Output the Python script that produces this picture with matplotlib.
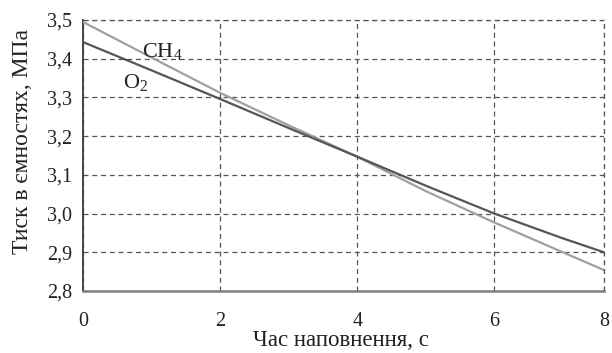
import matplotlib.pyplot as plt

# дані
t = [0, 1, 2, 3, 4, 5, 6, 7, 7.6]
p_ch4 = [3.495, 3.403, 3.312, 3.228, 3.147, 3.058, 2.977, 2.900, 2.854]
p_o2 = [3.443, 3.370, 3.296, 3.221, 3.147, 3.072, 3.000, 2.936, 2.900]

x_ticks = [0, 2, 4, 6, 7.6]
x_labels = ['0', '2', '4', '6', '8']
y_ticks = [2.8, 2.9, 3.0, 3.1, 3.2, 3.3, 3.4, 3.5]
y_labels = ['2,8', '2,9', '3,0', '3,1', '3,2', '3,3', '3,4', '3,5']

plt.rcParams['font.family'] = ['Liberation Serif', 'DejaVu Serif']
plt.rcParams['mathtext.fontset'] = 'custom'
plt.rcParams['mathtext.rm'] = 'Liberation Serif'
plt.rcParams['mathtext.it'] = 'Liberation Serif'

fig = plt.figure(figsize=(6.12, 3.53), dpi=100)
ax = fig.add_axes([0.1356, 0.1756, 0.8514, 0.7677])

ax.plot(t, p_ch4, color='#a0a0a0', lw=1.6, zorder=3)
ax.plot(t, p_o2, color='#555555', lw=1.6, zorder=4)

ax.set_xlim(0, 7.6)
ax.set_ylim(2.8, 3.5)
ax.set_xticks(x_ticks)
ax.set_xticklabels(x_labels)
ax.set_yticks(y_ticks)
ax.set_yticklabels(y_labels)
ax.tick_params(length=0, labelsize=14.5, colors='#222222')
ax.tick_params(axis='x', pad=15)
ax.tick_params(axis='y', pad=8)

ax.grid(True, linestyle=(0, (4, 3)), color='#555555', lw=0.9)
ax.set_axisbelow(True)
for s in ['top', 'right']:
    ax.spines[s].set_visible(False)
ax.spines['left'].set_color('#444444')
ax.spines['left'].set_linewidth(1.4)
ax.spines['bottom'].set_color('#808080')
ax.spines['bottom'].set_linewidth(1.8)
# пунктир по правому та верхньому краю
ax.axvline(7.6, linestyle=(0, (4, 3)), color='#555555', lw=0.9, clip_on=False)
ax.axhline(3.5, linestyle=(0, (4, 3)), color='#555555', lw=0.9, clip_on=False)

ax.text(1.15, 3.404, r'CH$_4$', fontsize=16, ha='center', va='baseline', color='#222222')
ax.text(0.77, 3.324, r'O$_2$', fontsize=16, ha='center', va='baseline', color='#222222')

fig.text(341 / 612, 1 - 340 / 353, 'Час наповнення, с', fontsize=16.5,
         ha='center', va='center', color='#222222')
fig.text(23 / 612, 1 - 141 / 353, 'Тиск в ємностях, МПа', fontsize=17,
         ha='center', va='center', rotation=90, color='#222222')

fig.savefig('out.png', dpi=100)
